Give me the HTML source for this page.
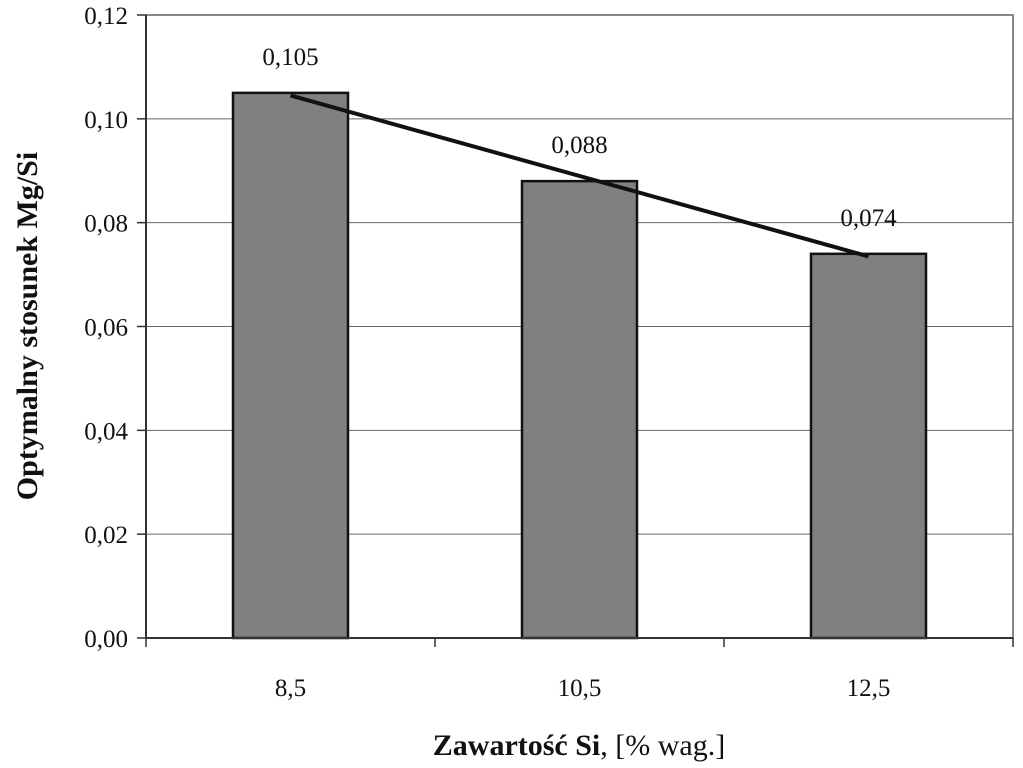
<!DOCTYPE html>
<html><head><meta charset="utf-8"><style>
body{margin:0;background:#fff}
svg text{font-family:"Liberation Serif",serif;fill:#111}
</style></head><body>
<svg id="chart" width="1023" height="763" xmlns="http://www.w3.org/2000/svg">
<g id="grid"></g>
<g id="bars"></g>
<g id="axes"></g>
<text transform="translate(37,326) rotate(-90)" text-anchor="middle" font-size="30" font-weight="bold">Optymalny stosunek Mg/Si</text>
<text x="579" y="755" text-anchor="middle" font-size="30"><tspan font-weight="bold">Zawartość Si</tspan>, [% wag.]</text>
</svg>
<script>
const categories = ["8,5","10,5","12,5"];
const values = [0.105,0.088,0.074];
const valueLabels = ["0,105","0,088","0,074"];
const yTicks = [0,0.02,0.04,0.06,0.08,0.10,0.12];
const yTickLabels = ["0,00","0,02","0,04","0,06","0,08","0,10","0,12"];
const NS="http://www.w3.org/2000/svg";
const L=146,R=1013,T=15,B=638,yMax=0.12;
const y=v=>B-(v/yMax)*(B-T);
const cw=(R-L)/categories.length;
const xc=i=>L+cw*(i+0.5);
const bw=115;
function mk(tag,parent,attrs){const e=document.createElementNS(NS,tag);for(const k in attrs)e.setAttribute(k,attrs[k]);parent.appendChild(e);return e;}
const grid=document.getElementById('grid'),bars=document.getElementById('bars'),axes=document.getElementById('axes');
mk('rect',grid,{x:L,y:T,width:R-L,height:B-T,fill:'#fff',stroke:'#888','stroke-width':2});
yTicks.forEach((t,i)=>{
  if(t>0&&t<yMax){const g=mk('line',grid,{x1:L,x2:R,y1:y(t),y2:y(t),stroke:'#666','stroke-width':1});
  
  }
  const tk=mk('line',axes,{x1:L-9,x2:L,y1:y(t),y2:y(t),stroke:'#333','stroke-width':1.5});
  
  
  const tx=mk('text',axes,{x:L-18,y:y(t)+9,'text-anchor':'end','font-size':25});
  tx.textContent=yTickLabels[i];
  
  
});
values.forEach((v,i)=>{
  const r=mk('rect',bars,{x:xc(i)-bw/2,y:y(v),width:bw,height:B-y(v),fill:'#808080',stroke:'#111','stroke-width':2.5});
  
  
  const lb=mk('text',bars,{x:xc(i),y:y(v)-28,'text-anchor':'middle','font-size':25});
  lb.textContent=valueLabels[i];
  
  
  const cl=mk('text',axes,{x:xc(i),y:B+58,'text-anchor':'middle','font-size':25});
  cl.textContent=categories[i];
  
  
});
for(let i=0;i<=categories.length;i++){
  const tk=mk('line',axes,{x1:L+cw*i,x2:L+cw*i,y1:B,y2:B+9,stroke:'#333','stroke-width':1.5});
  
  
}
const ax=mk('line',axes,{x1:L-1,x2:R,y1:B,y2:B,stroke:'#333','stroke-width':2});


const ay=mk('line',axes,{x1:L,x2:L,y1:T,y2:B,stroke:'#333','stroke-width':2});


// linear trend
const n=values.length;let sx=0,sy=0,sxy=0,sxx=0;
values.forEach((v,i)=>{sx+=i;sy+=v;sxy+=i*v;sxx+=i*i;});
const m=(n*sxy-sx*sy)/(n*sxx-sx*sx),b0=(sy-m*sx)/n;
const tl=mk('line',bars,{x1:xc(0),y1:y(b0),x2:xc(n-1),y2:y(b0+m*(n-1)),stroke:'#111','stroke-width':4});


</script>
</body></html>
